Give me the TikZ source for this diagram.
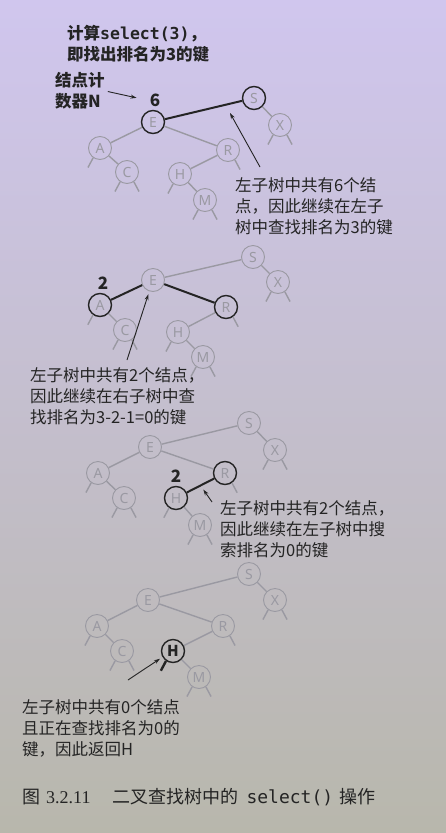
\documentclass[tikz,border=0pt]{standalone}
\usepackage{fontspec}
\setmainfont{Noto Sans CJK SC}
\newfontfamily\keyfont{Noto Sans}
\newfontfamily\codefont{DejaVu Sans Mono}
\newfontfamily\capfont{Liberation Serif}
\usetikzlibrary{arrows.meta, backgrounds}

\definecolor{paperTop}{HTML}{D0C6EE}
\definecolor{paperMid}{HTML}{DEDCE4}
\definecolor{paperBot}{HTML}{B8B7AC}
\definecolor{fade}{HTML}{9A99A2}
\definecolor{ink}{HTML}{242424}

\begin{document}
\begin{tikzpicture}[
        x=1pt, y=-1pt,
        >={Stealth[length=6pt, width=4pt]},
        % Styles
        keynode/.style={circle, draw=fade, line width=0.9pt, minimum size=23pt, inner sep=0pt,
                text=fade, font=\keyfont\fontsize{14}{14}\selectfont},
        keybold/.style={keynode, draw=ink, line width=1.4pt},
        keyfound/.style={keybold, text=ink, font=\bfseries\fontsize{15}{15}\selectfont},
        link/.style={draw=fade, line width=1.4pt},
        linkbold/.style={draw=ink, line width=2pt},
        nulllink/.style={draw=fade, line width=1.4pt},
        nullbold/.style={draw=ink, line width=2.4pt},
        notetext/.style={anchor=north west, inner sep=0pt, align=left, text=ink,
                font=\fontsize{16.5}{21}\selectfont},
        notebold/.style={notetext, font=\bfseries\fontsize{16.5}{21.5}\selectfont},
        countlab/.style={font=\bfseries\fontsize{17}{17}\selectfont, text=ink},
        pointer/.style={->, draw=ink, line width=0.9pt}, ]

        % paper
        \shade[top color=paperTop, middle color=paperMid, bottom color=paperBot] (0,0) rectangle (446,833);

        % === TITLE ===
        \node[notebold] (title) at (67,25) {计算{\codefont select(3)}，\\即找出排名为3的键};
        \node[notebold] (cntnote) at (55,72) {结点计\\数器N};

        % === TREE 1: start at root, rank 3 ===
        \node[keybold] (e1) at (153,122) {E};
        \node[keybold] (s1) at (254,98) {S};
        \node[keynode] (x1) at (280,125) {X};
        \node[keynode] (a1) at (100,148) {A};
        \node[keynode] (c1) at (127,172) {C};
        \node[keynode] (r1) at (228,150) {R};
        \node[keynode] (h1) at (180,174) {H};
        \node[keynode] (m1) at (205,200) {M};
        \node[countlab] (n1) at (155,100) {6};

        \draw[linkbold] (e1) -- (s1);
        \draw[link] (s1) -- (x1);
        \draw[link] (e1) -- (a1);
        \draw[link] (e1) -- (r1);
        \draw[link] (a1) -- (c1);
        \draw[link] (r1) -- (h1);
        \draw[link] (h1) -- (m1);

        % null links
        \draw[nulllink] (a1.-125) -- ++(-118:11pt);
        \draw[nulllink] (c1.-125) -- ++(-118:11pt);
        \draw[nulllink] (c1.-55) -- ++(-62:11pt);
        \draw[nulllink] (h1.-125) -- ++(-118:11pt);
        \draw[nulllink] (m1.-125) -- ++(-118:11pt);
        \draw[nulllink] (m1.-55) -- ++(-62:11pt);
        \draw[nulllink] (r1.-55) -- ++(-62:11pt);
        \draw[nulllink] (x1.-125) -- ++(-118:11pt);
        \draw[nulllink] (x1.-55) -- ++(-62:11pt);

        \node[notetext] (note1) at (235,177) {左子树中共有6个结\\点，因此继续在左子\\树中查找排名为3的键};
        \coordinate (tip1) at (230,113);
        \draw[pointer, shorten <=3pt, shorten >=10pt] (cntnote.east) -- (n1.west);
        \draw[pointer] ([shift={(25pt,10pt)}]note1.north west) -- (tip1);

        % === TREE 2: go right, rank 3-2-1=0 ===
        \node[keynode] (e2) at (153,280) {E};
        \node[keynode] (s2) at (253,257) {S};
        \node[keynode] (x2) at (278,282) {X};
        \node[keybold] (a2) at (100,305) {A};
        \node[keynode] (c2) at (125,330) {C};
        \node[keybold] (r2) at (226,307) {R};
        \node[keynode] (h2) at (178,332) {H};
        \node[keynode] (m2) at (203,357) {M};
        \node[countlab] (n2) at (103,283) {2};

        \draw[link] (e2) -- (s2);
        \draw[link] (s2) -- (x2);
        \draw[linkbold] (e2) -- (a2);
        \draw[linkbold] (e2) -- (r2);
        \draw[link] (a2) -- (c2);
        \draw[link] (r2) -- (h2);
        \draw[link] (h2) -- (m2);

        \draw[nulllink] (a2.-125) -- ++(-118:11pt);
        \draw[nulllink] (c2.-125) -- ++(-118:11pt);
        \draw[nulllink] (c2.-55) -- ++(-62:11pt);
        \draw[nulllink] (h2.-125) -- ++(-118:11pt);
        \draw[nulllink] (m2.-125) -- ++(-118:11pt);
        \draw[nulllink] (m2.-55) -- ++(-62:11pt);
        \draw[nulllink] (r2.-55) -- ++(-62:11pt);
        \draw[nulllink] (x2.-125) -- ++(-118:11pt);
        \draw[nulllink] (x2.-55) -- ++(-62:11pt);

        \node[notetext] (note2) at (30,367) {左子树中共有2个结点，\\因此继续在右子树中查\\找排名为3-2-1=0的键};
        \draw[pointer, shorten >=3pt] ([shift={(97pt,7pt)}]note2.north west) -- (e2.-108);

        % === TREE 3: go left, rank 0 ===
        \node[keynode] (e3) at (150,447) {E};
        \node[keynode] (s3) at (249,423) {S};
        \node[keynode] (x3) at (275,450) {X};
        \node[keynode] (a3) at (98,473) {A};
        \node[keynode] (c3) at (124,498) {C};
        \node[keybold] (r3) at (225,473) {R};
        \node[keybold] (h3) at (176,498) {H};
        \node[keynode] (m3) at (200,525) {M};
        \node[countlab] (n3) at (176,476) {2};

        \draw[link] (e3) -- (s3);
        \draw[link] (s3) -- (x3);
        \draw[link] (e3) -- (a3);
        \draw[link] (e3) -- (r3);
        \draw[link] (a3) -- (c3);
        \draw[linkbold] (r3) -- coordinate (rh3) (h3);
        \draw[link] (h3) -- (m3);

        \draw[nulllink] (a3.-125) -- ++(-118:11pt);
        \draw[nulllink] (c3.-125) -- ++(-118:11pt);
        \draw[nulllink] (c3.-55) -- ++(-62:11pt);
        \draw[nulllink] (h3.-125) -- ++(-118:11pt);
        \draw[nulllink] (m3.-125) -- ++(-118:11pt);
        \draw[nulllink] (m3.-55) -- ++(-62:11pt);
        \draw[nulllink] (r3.-55) -- ++(-62:11pt);
        \draw[nulllink] (x3.-125) -- ++(-118:11pt);
        \draw[nulllink] (x3.-55) -- ++(-62:11pt);

        \node[notetext] (note3) at (220,500) {左子树中共有2个结点，\\因此继续在左子树中搜\\索排名为0的键};
        \draw[pointer, shorten >=5pt] ([shift={(-8pt,-2pt)}]note3.north west) -- (rh3);

        % === TREE 4: found H ===
        \node[keynode] (e4) at (148,600) {E};
        \node[keynode] (s4) at (249,574) {S};
        \node[keynode] (x4) at (275,600) {X};
        \node[keynode] (a4) at (97,626) {A};
        \node[keynode] (c4) at (122,651) {C};
        \node[keynode] (r4) at (223,626) {R};
        \node[keyfound] (h4) at (173,651) {H};
        \node[keynode] (m4) at (199,677) {M};

        \draw[link] (e4) -- (s4);
        \draw[link] (s4) -- (x4);
        \draw[link] (e4) -- (a4);
        \draw[link] (e4) -- (r4);
        \draw[link] (a4) -- (c4);
        \draw[link] (r4) -- (h4);
        \draw[link] (h4) -- (m4);

        \draw[nulllink] (a4.-125) -- ++(-118:11pt);
        \draw[nulllink] (c4.-125) -- ++(-118:11pt);
        \draw[nulllink] (c4.-55) -- ++(-62:11pt);
        \draw[nullbold] (h4.-125) -- ++(-118:11pt);
        \draw[nulllink] (m4.-125) -- ++(-118:11pt);
        \draw[nulllink] (m4.-55) -- ++(-62:11pt);
        \draw[nulllink] (r4.-55) -- ++(-62:11pt);
        \draw[nulllink] (x4.-125) -- ++(-118:11pt);
        \draw[nulllink] (x4.-55) -- ++(-62:11pt);

        \node[notetext] (note4) at (22,699) {左子树中共有0个结点\\且正在查找排名为0的\\键，因此返回H};
        \draw[pointer, shorten >=3pt] ([shift={(106pt,19pt)}]note4.north west) -- (h4.210);

        % === CAPTION ===
        \node[anchor=north west, inner sep=0pt, text=ink, font=\fontsize{18}{18}\selectfont] (caption) at (22,788)
                {图\hspace{6pt}{\capfont 3.2.11}\hspace{22pt}二叉查找树中的\hspace{8pt}{\codefont select()}\hspace{6pt}操作};

    \end{tikzpicture}
\end{document}
